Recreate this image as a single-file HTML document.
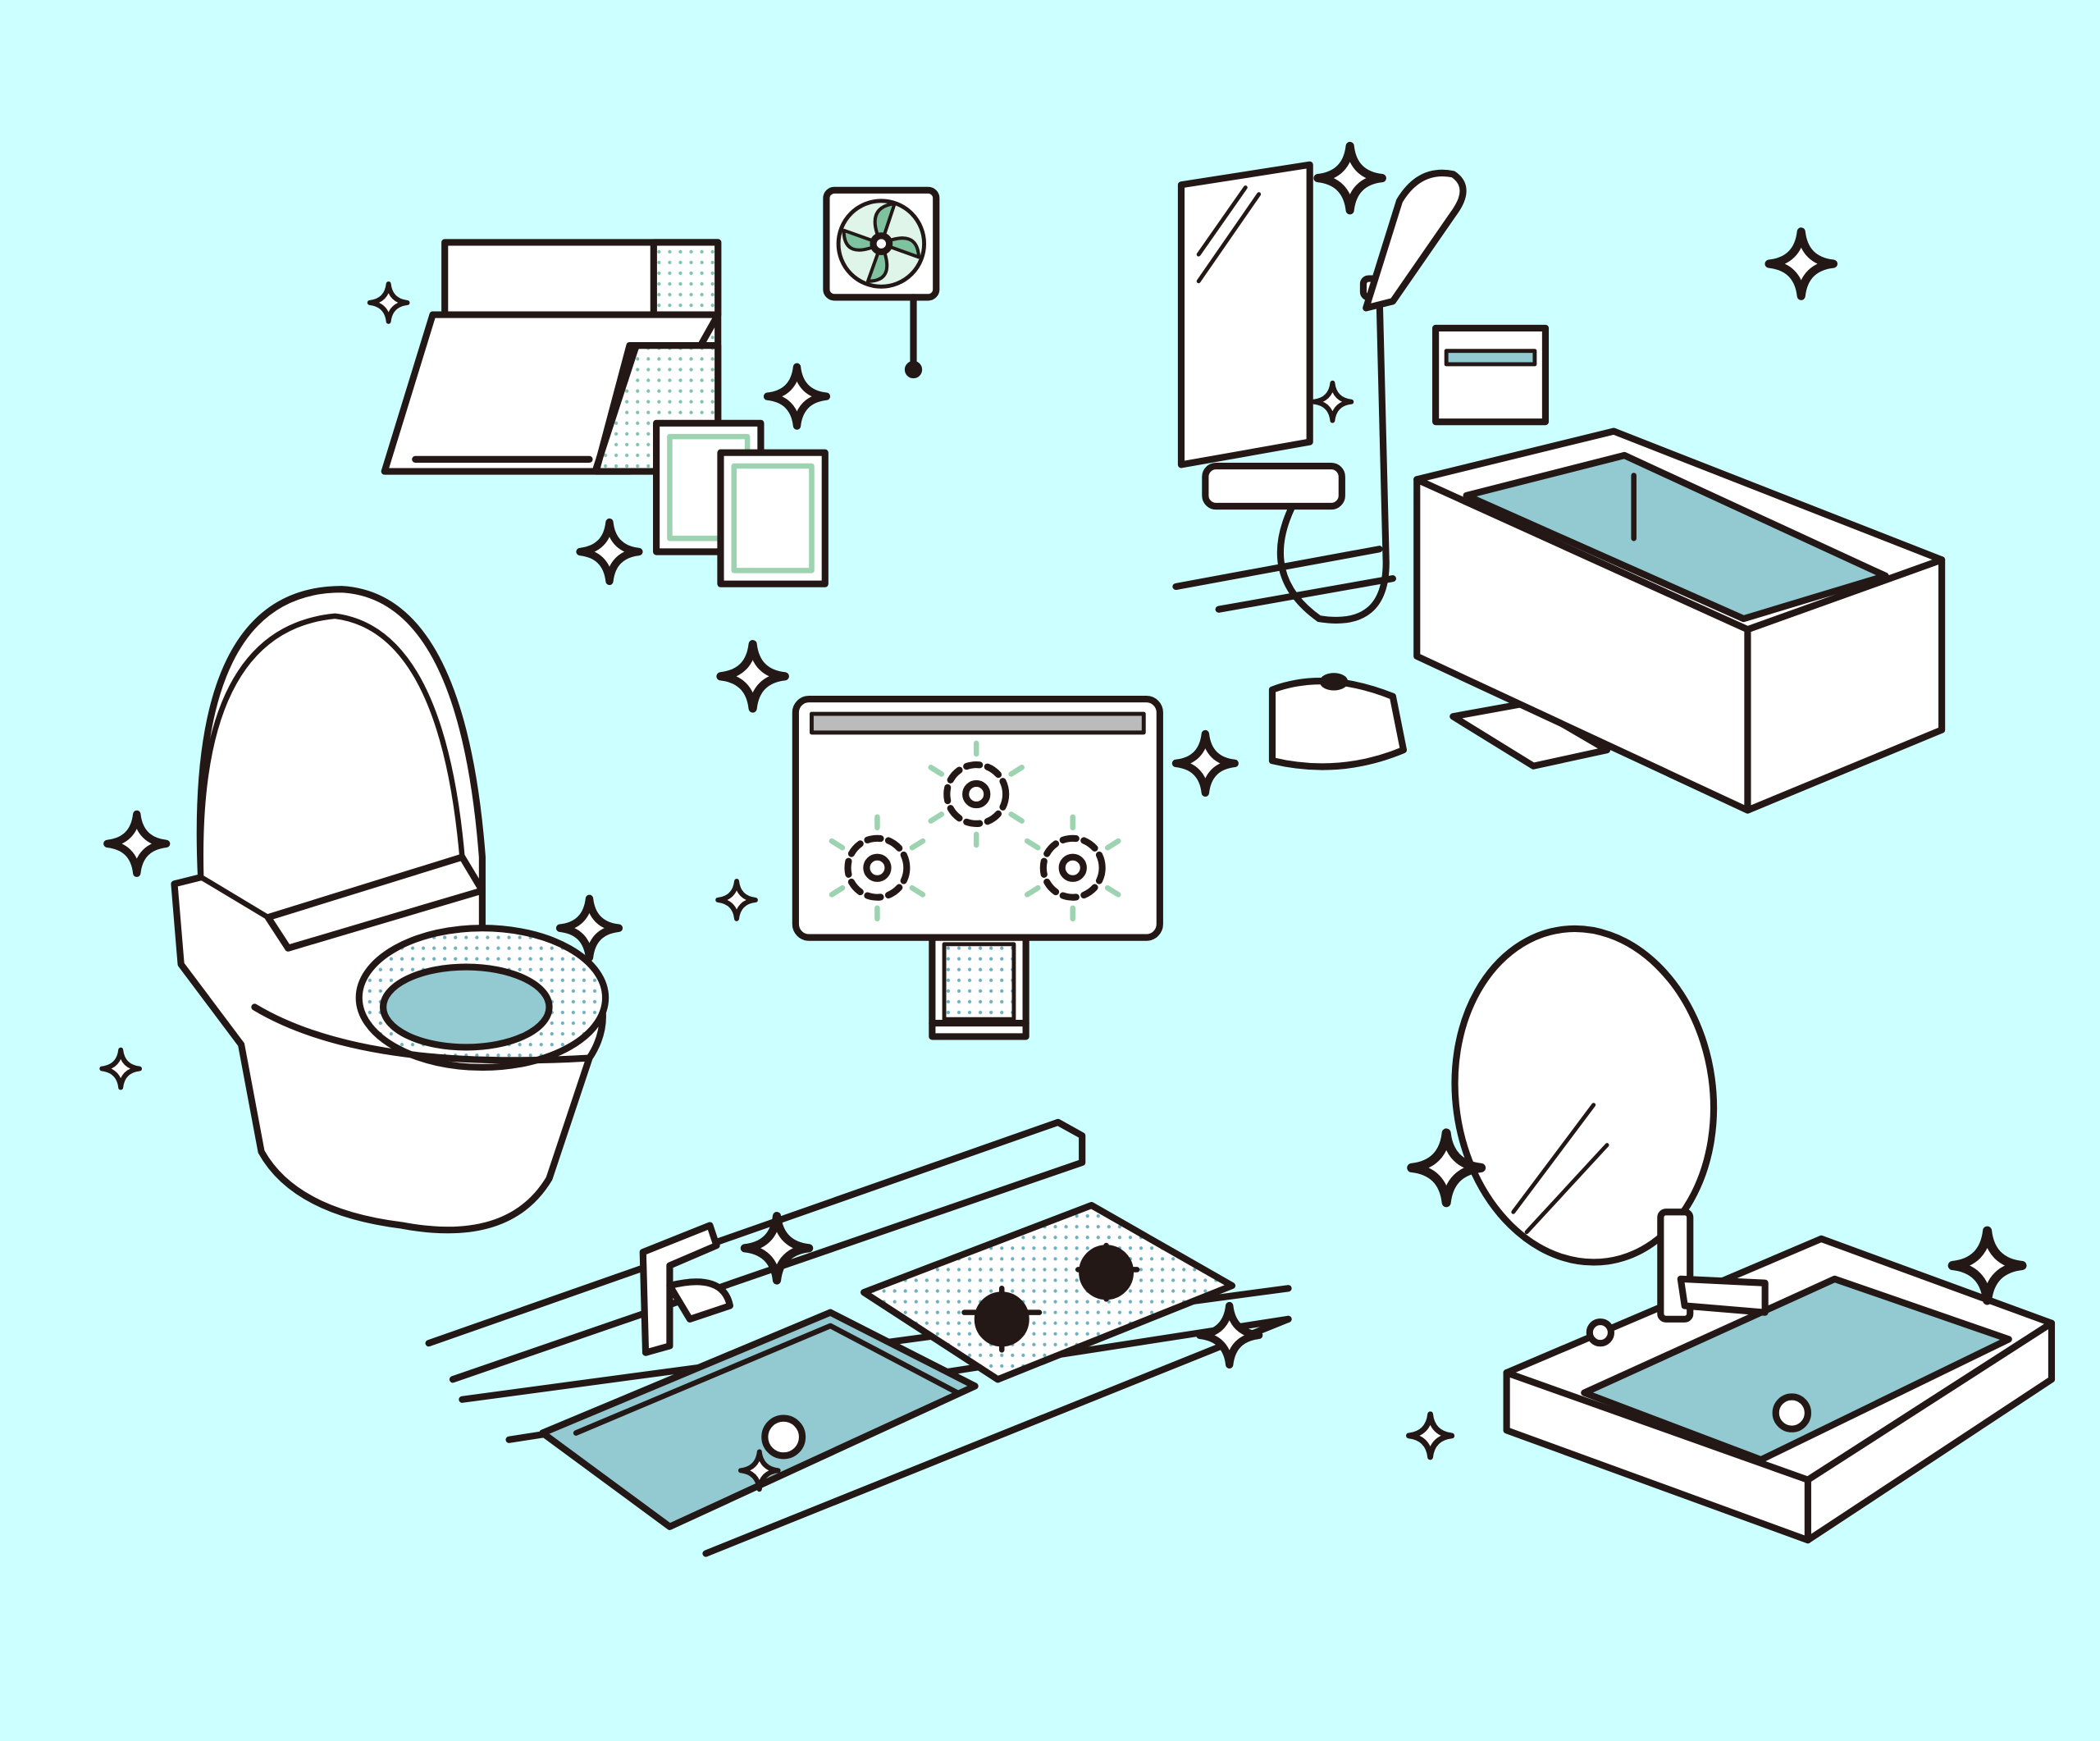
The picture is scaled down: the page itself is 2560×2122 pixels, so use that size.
<!DOCTYPE html>
<html><head><meta charset="utf-8"><style>
html,body{margin:0;padding:0;background:#ccffff;}
svg{display:block;}
</style></head><body>
<svg width="2560" height="2122" viewBox="0 0 1568 1300" xmlns="http://www.w3.org/2000/svg">
<defs>
<symbol id="st" viewBox="-1 -1 2 2" overflow="visible">
<path d="M0,-1 Q0.1,-0.1 1,0 Q0.1,0.1 0,1 Q-0.1,0.1 -1,0 Q-0.1,-0.1 0,-1Z" fill="#fff" stroke="#231815" stroke-width="0.26" stroke-linejoin="round"/>
</symbol>
<pattern id="dots" width="8" height="8" patternUnits="userSpaceOnUse"><rect width="8" height="8" fill="#fff"/><circle cx="4" cy="4" r="1.3" fill="#7fc2b0"/></pattern>
<pattern id="dotsb" width="8" height="8" patternUnits="userSpaceOnUse"><rect width="8" height="8" fill="#fff"/><circle cx="4" cy="4" r="1.3" fill="#6fb0c0"/></pattern>
</defs>
<rect width="1568" height="1300" fill="#ccffff"/>
<g fill="#fff" stroke="#231815" stroke-width="5" stroke-linejoin="round" stroke-linecap="round">
<rect x="332" y="181" width="204" height="54"/>
<rect x="488" y="181" width="48" height="160" fill="url(#dots)"/>
<polygon points="323,235 536,235 470,352 287,352"/>
<polygon points="470,258 536,258 536,352 445,352" fill="url(#dots)"/>
<line x1="475" y1="258" x2="445" y2="350"/>
<line x1="310" y1="343" x2="440" y2="343"/>
<rect x="490" y="316" width="78" height="96"/>
<rect x="500" y="326" width="58" height="76" stroke="#9dd3b0" stroke-width="4"/>
<rect x="538" y="338" width="78" height="98"/>
<rect x="548" y="348" width="58" height="78" stroke="#9dd3b0" stroke-width="4"/>
<rect x="617" y="142" width="82" height="80" rx="6"/>
<circle cx="658" cy="182" r="32" fill="#dff5ea" stroke-width="3"/>
<g fill="#7fc2a0" stroke="#231815" stroke-width="2.5">
<path d="M658,182 Q645,155 668,152Z"/><path d="M658,182 Q685,170 686,192Z"/><path d="M658,182 Q670,210 648,210Z"/><path d="M658,182 Q630,195 630,172Z"/>
</g>
<circle cx="658" cy="182" r="6"/>
<line x1="682" y1="222" x2="682" y2="272"/><circle cx="682" cy="276" r="4" fill="#231815"/>
<rect x="696" y="698" width="70" height="76" fill="#fff"/>
<rect x="705" y="705" width="52" height="56" fill="url(#dotsb)" stroke-width="3"/>
<line x1="696" y1="764" x2="766" y2="764"/>
<rect x="594" y="522" width="272" height="178" rx="10"/>
<rect x="606" y="533" width="248" height="14" fill="#bbb" stroke-width="3"/>
<g fill="none">
<g stroke="#9dd3b0" stroke-width="4">
<path d="M729,563v-8M729,623v8M703,578l-8,-5M755,578l8,-5M703,608l-8,5M755,608l8,5"/>
<path d="M655,618v-8M655,678v8M629,633l-8,-5M681,633l8,-5M629,663l-8,5M681,663l8,5"/>
<path d="M801,618v-8M801,678v8M775,633l-8,-5M827,633l8,-5M775,663l-8,5M827,663l8,5"/>
</g>
<circle cx="729" cy="593" r="22" stroke-dasharray="10 6"/><circle cx="729" cy="593" r="8"/>
<circle cx="655" cy="648" r="22" stroke-dasharray="10 6"/><circle cx="655" cy="648" r="8"/>
<circle cx="801" cy="648" r="22" stroke-dasharray="10 6"/><circle cx="801" cy="648" r="8"/>
</g>
<polygon points="882,138 978,123 978,330 882,347"/>
<line x1="895" y1="190" x2="930" y2="140" stroke-width="3"/><line x1="895" y1="210" x2="940" y2="145" stroke-width="3"/>
<path d="M878,438 L1030,410 M910,455 L1040,432" fill="none"/>
<path d="M965,378 Q940,430 985,462 Q1035,470 1035,420 L1030,220" fill="none"/>
<rect x="1018" y="208" width="22" height="14" rx="4"/>
<path d="M1020,230 L1045,150 Q1060,125 1085,130 Q1100,140 1085,160 L1040,225Z"/>
<rect x="900" y="348" width="102" height="30" rx="8"/>
<rect x="1072" y="245" width="82" height="70"/>
<rect x="1080" y="262" width="66" height="10" fill="#93c9d1" stroke-width="3"/>
<path d="M950,515 Q990,500 1040,520 L1048,560 Q1000,580 950,568Z"/>
<ellipse cx="996" cy="509" rx="8" ry="4" fill="#231815"/>
<polygon points="1085,535 1140,525 1200,560 1145,572" fill="#fff"/>
<polygon points="1058,490 1305,605 1450,545 1450,418 1305,470 1058,358"/>
<polygon points="1058,358 1205,322 1450,418 1305,470"/>
<polygon points="1095,370 1213,340 1408,430 1302,462" fill="#93c9d1"/>
<line x1="1220" y1="355" x2="1220" y2="402" stroke-width="4"/>
<line x1="1305" y1="470" x2="1305" y2="605"/>
<path d="M130,660 L150,655 Q140,440 255,440 Q345,445 360,640 L360,700 L440,725 Q460,760 440,790 L410,880 Q380,930 300,915 Q220,905 195,860 L180,780 L135,720Z"/>
<path d="M150,655 Q145,470 250,460 Q330,470 345,640 L200,685 Z" stroke-width="4"/>
<path d="M200,685 L345,640 L360,665 L215,708Z"/>
<ellipse cx="360" cy="745" rx="92" ry="52" fill="url(#dotsb)"/>
<ellipse cx="348" cy="752" rx="62" ry="30" fill="#93c9d1"/>
<path d="M190,752 Q270,800 440,790" fill="none"/>
<g fill="none">
<path d="M320,1003 L790,838 L808,848 L808,868 L338,1030"/>
<path d="M345,1045 L962,962"/>
<path d="M380,1075 L962,985"/>
<path d="M527,1160 L962,985"/>
</g>
<polygon points="405,1070 620,980 728,1035 500,1140" fill="#93c9d1"/>
<path d="M430,1070 L620,990 L715,1040" fill="none" stroke-width="4"/>
<circle cx="585" cy="1073" r="14"/>
<polygon points="645,965 815,900 920,960 745,1030" fill="url(#dotsb)"/>
<g fill="#231815"><circle cx="748" cy="985" r="18"/><circle cx="826" cy="950" r="18"/></g>
<g stroke="#231815" stroke-width="4"><path d="M720,980h56M748,962v46M805,948h44M826,930v40"/></g>
<path d="M480,935 L530,915 L535,930 L500,945 L500,1005 L482,1010Z"/>
<path d="M500,960 Q540,950 545,975 L515,985Z"/>
<ellipse cx="1183" cy="818" rx="96" ry="125" transform="rotate(-8 1183 818)"/>
<line x1="1130" y1="905" x2="1190" y2="825" stroke-width="3"/><line x1="1140" y1="920" x2="1200" y2="855" stroke-width="3"/>
<polygon points="1125,1025 1125,1068 1350,1150 1532,1030 1532,988 1360,925"/>
<line x1="1125" y1="1025" x2="1350" y2="1105"/><line x1="1350" y1="1105" x2="1532" y2="988"/><line x1="1350" y1="1105" x2="1350" y2="1150"/>
<polygon points="1183,1040 1370,955 1500,1000 1315,1090" fill="#93c9d1"/>
<circle cx="1338" cy="1055" r="12"/>
<rect x="1240" y="905" width="22" height="80" rx="4"/>
<path d="M1255,955 L1318,958 L1318,980 L1258,975Z"/>
<circle cx="1195" cy="995" r="8"/>
</g>
<g>
<use href="#st" x="276" y="212" width="28" height="28"/>
<use href="#st" x="573" y="274" width="44" height="44"/>
<use href="#st" x="433" y="390" width="44" height="44"/>
<use href="#st" x="984" y="109" width="48" height="48"/>
<use href="#st" x="1321" y="173" width="48" height="48"/>
<use href="#st" x="981" y="286" width="28" height="28"/>
<use href="#st" x="538" y="481" width="48" height="48"/>
<use href="#st" x="878" y="548" width="44" height="44"/>
<use href="#st" x="80" y="608" width="44" height="44"/>
<use href="#st" x="418" y="671" width="44" height="44"/>
<use href="#st" x="536" y="658" width="28" height="28"/>
<use href="#st" x="76" y="784" width="28" height="28"/>
<use href="#st" x="556" y="908" width="48" height="48"/>
<use href="#st" x="896" y="975" width="44" height="44"/>
<use href="#st" x="1054" y="846" width="52" height="52"/>
<use href="#st" x="1458" y="919" width="52" height="52"/>
<use href="#st" x="553" y="1084" width="28" height="28"/>
<use href="#st" x="1052" y="1056" width="32" height="32"/>
</g>
</svg>
</body></html>
